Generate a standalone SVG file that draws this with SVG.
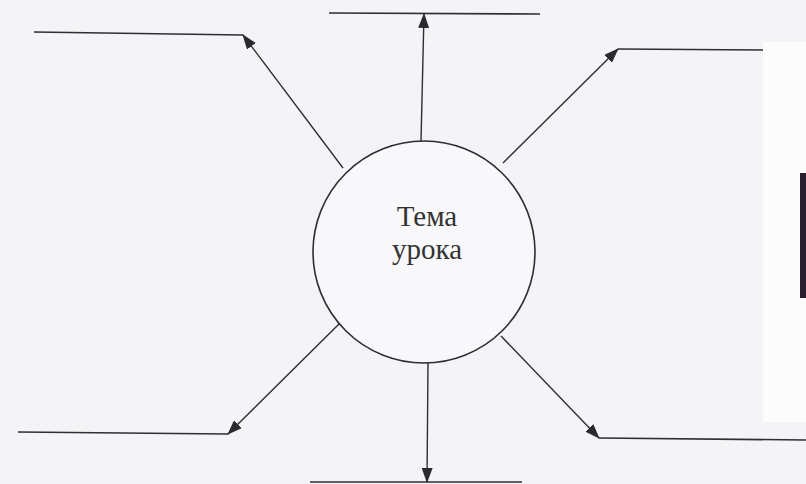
<svg xmlns="http://www.w3.org/2000/svg" width="806" height="484" viewBox="0 0 806 484">
<style>
.ln{stroke:#2e2e33;stroke-width:1.6;fill:none}
.ar{stroke:#2e2e33;stroke-width:1.4;fill:none;marker-end:url(#ah)}
.lbl{font-family:"Liberation Serif","Times New Roman",serif;font-size:29px;fill:#333;text-anchor:middle}
</style>
<defs>
<marker id="ah" viewBox="0 0 15 11" refX="14" refY="5.5" markerWidth="15" markerHeight="11" markerUnits="userSpaceOnUse" orient="auto">
<path d="M0,0 L15,5.5 L0,11 Z" fill="#2a2a30"/>
</marker>
</defs>
<rect width="806" height="484" fill="#f4f4f6"/>
<rect x="763" y="42" width="43" height="380" fill="#fcfcfd"/>
<rect x="800" y="173" width="6" height="125" fill="#2a2030"/>
<g id="center">
<circle cx="424" cy="252" r="111" fill="#f8f8fa" stroke="#2e2e33" stroke-width="1.6"/>
<text class="lbl" x="427" y="226">Тема</text>
<text class="lbl" x="427" y="259">урока</text>
</g>
<g id="line-top"><line class="ln" x1="329" y1="13" x2="540" y2="14"/></g>
<g id="line-top-left"><line class="ln" x1="34" y1="32" x2="243" y2="35"/></g>
<g id="line-top-right"><line class="ln" x1="618" y1="49" x2="763" y2="50"/></g>
<g id="line-bottom-left"><line class="ln" x1="18" y1="432" x2="228" y2="434"/></g>
<g id="line-bottom"><line class="ln" x1="310" y1="482" x2="522" y2="482"/></g>
<g id="line-bottom-right"><line class="ln" x1="599" y1="438" x2="806" y2="440"/></g>
<g id="connectors">
<line class="ar" x1="421" y1="141" x2="424" y2="14"/>
<line class="ar" x1="343" y1="168" x2="243" y2="35"/>
<line class="ar" x1="503" y1="163" x2="618" y2="49"/>
<line class="ar" x1="339" y1="324" x2="228" y2="434"/>
<line class="ar" x1="428" y1="363" x2="427" y2="482"/>
<line class="ar" x1="501" y1="336" x2="599" y2="438"/>
</g>
</svg>
